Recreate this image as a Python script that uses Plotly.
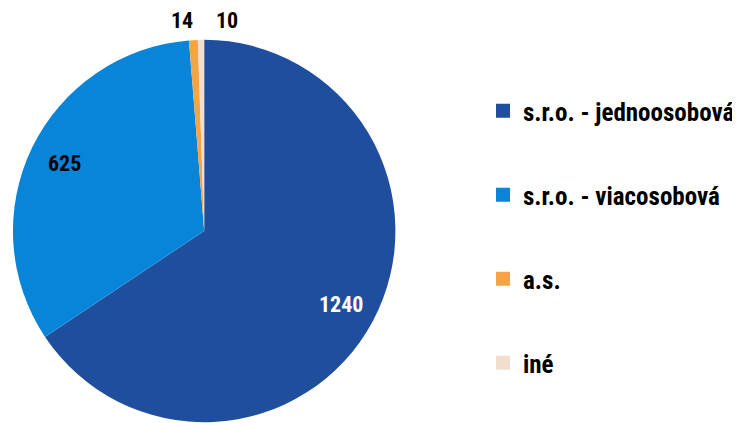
import numpy as np
import plotly.graph_objects as go

labels = ["s.r.o. - jednoosobová", "s.r.o. - viacosobová", "a.s.", "iné"]
values = [1240, 625, 14, 10]
colors = ["#1F4E9C", "#0885D8", "#F4A444", "#F2DECE"]
text_colors = ["white", "black", "black", "black"]
label_inside = [True, True, False, False]

FONT = "Roboto Condensed, Liberation Sans Narrow, sans-serif"
W, H = 740, 423          # browser window
OFF = 8                  # page body margin
FW, FH = W - OFF, H - OFF  # figure size


def px_x(x):
    """screen x pixel -> paper coordinate"""
    return (x - OFF) / FW


def px_y(y):
    """screen y pixel -> paper coordinate"""
    return 1 - (y - OFF) / FH


# pie geometry in screen pixels
px0, px1 = 13, 397
py_top, py_bot = 39, 423
cx, cy = (px0 + px1) / 2, (py_top + py_bot) / 2
R = (px1 - px0) / 2

fig = go.Figure()
fig.add_trace(go.Pie(
    labels=labels,
    values=values,
    sort=False,
    direction="clockwise",
    rotation=0,
    marker=dict(colors=colors, line=dict(width=0)),
    textinfo="none",
    domain=dict(x=[px_x(px0), px_x(px1)], y=[max(0, px_y(py_bot)), px_y(py_top)]),
    showlegend=False,
    hoverinfo="label+value",
))

# data labels placed from slice mid-angles
vals = np.array(values, dtype=float)
cum = np.cumsum(vals) - vals / 2
mid = cum / vals.sum() * 2 * np.pi  # clockwise from top
out_anchor = {2: ("right", 3), 3: ("left", 13)}
for i, (v, a) in enumerate(zip(values, mid)):
    if label_inside[i]:
        rf = 0.81 * R
        xa, xs = "center", 0
    else:
        rf = cy - 20
        xa, xs = out_anchor[i]
    x = cx + rf * np.sin(a)
    y = cy - rf * np.cos(a)
    fig.add_annotation(
        x=px_x(x), y=px_y(y), xref="paper", yref="paper",
        text=str(v), showarrow=False, xanchor=xa, yanchor="middle", xshift=xs,
        font=dict(family=FONT, size=22, weight="bold", color=text_colors[i]),
    )

# legend entries
for lab, col in zip(labels, colors):
    fig.add_trace(go.Scatter(
        x=[None], y=[None], mode="markers", name=lab,
        marker=dict(symbol="square", size=14, color=col),
        legendgroup=lab, showlegend=True,
    ))

fig.update_layout(
    width=FW, height=FH,
    margin=dict(l=0, r=0, t=0, b=0),
    paper_bgcolor="white", plot_bgcolor="white",
    xaxis=dict(visible=False), yaxis=dict(visible=False),
    legend=dict(
        x=px_x(485), y=px_y(88), xanchor="left", yanchor="top",
        font=dict(family=FONT, size=25, weight="bold", color="black"),
        tracegroupgap=48.5, itemwidth=30,
        bgcolor="rgba(0,0,0,0)",
    ),
    font=dict(family=FONT),
)

fig.write_html("out.html")
